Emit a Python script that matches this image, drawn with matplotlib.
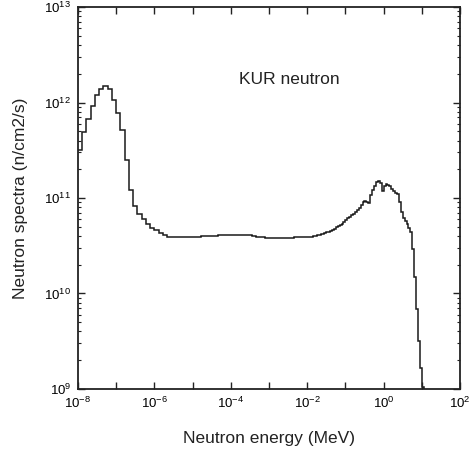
import numpy as np
import matplotlib
matplotlib.use("Agg")
import matplotlib.pyplot as plt
from matplotlib.ticker import LogLocator, NullLocator, NullFormatter

plt.rcParams['font.family'] = ['Liberation Sans', 'DejaVu Sans']
plt.rcParams['mathtext.fontset'] = 'custom'
plt.rcParams['mathtext.rm'] = 'Liberation Sans'
plt.rcParams['mathtext.default'] = 'regular'

# group structure: 9 groups/decade below 10 keV, 20 groups/decade above
slow_edges = 10 ** (-8 + np.arange(55) / 9)        # MeV
fast_edges = 10 ** (-2 + np.arange(1, 63) / 20)    # MeV

# group flux, units of 1e10 n/cm2/s
thermal_flux = [32, 49, 68, 93, 120, 138, 148, 138, 107, 78, 51, 25, 12.0,
                8.3, 6.8, 6.0, 5.4, 4.9, 4.6, 4.3, 4.1, 3.94]
epithermal_flux = [3.89, 3.89, 3.89, 3.89, 3.89, 3.91, 3.94, 3.96, 3.98, 3.98,
                   4.03, 4.05, 4.07, 4.09, 4.12, 4.14, 4.14, 4.12, 4.07, 3.98,
                   3.91, 3.87, 3.85, 3.85, 3.85, 3.85, 3.85, 3.85, 3.85, 3.86,
                   3.87, 3.89]
fast_flux = [3.89, 3.91, 3.94, 3.98, 4.03, 4.07, 4.13, 4.17, 4.22, 4.27,
             4.37, 4.45, 4.52, 4.57, 4.79, 4.95, 5.07, 5.19, 5.37, 5.56,
             5.82, 6.10, 6.31, 6.61, 6.84, 7.16, 7.50, 7.94, 8.51, 9.12,
             9.33, 9.02, 8.81, 10.7, 12.0, 13.2, 14.8, 15.1, 14.3, 11.7,
             13.5, 14.1, 13.6, 13.2, 12.3, 11.7, 11.4, 11.1, 9.1, 7.2,
             6.2, 5.8, 5.4, 4.9, 4.4, 2.9, 1.48, 0.69, 0.32, 0.166,
             0.105, 0.05]

edges = np.concatenate([slow_edges, fast_edges])
flux = np.array(thermal_flux + epithermal_flux + fast_flux) * 1e10

fig = plt.figure(figsize=(4.69, 4.50), dpi=100)
ax = fig.add_axes([0.1663, 0.1356, 0.8145, 0.8488])

ax.stairs(flux, edges, baseline=None, color='#1a1a1a', linewidth=1.1)

ax.set_xscale('log')
ax.set_yscale('log')
ax.set_xlim(1e-8, 1e2)
ax.set_ylim(1e9, 1e13)

ax.xaxis.set_minor_locator(NullLocator())
ax.set_xticks([10.0 ** p for p in range(-8, 3)])
ax.set_xticklabels(['$10^{%d}$' % p if p % 2 == 0 else '' for p in range(-8, 3)])
ax.xaxis.set_minor_locator(NullLocator())
ax.set_yticks([10.0 ** p for p in range(9, 14)])
ax.set_yticklabels(['$10^{%d}$' % p for p in range(9, 14)])
ax.yaxis.set_minor_locator(LogLocator(base=10, subs=np.arange(2, 10), numticks=10))
ax.yaxis.set_minor_formatter(NullFormatter())

ax.tick_params(which='both', direction='in', top=True, right=True,
               labelsize=9.5, color='#222222')
ax.tick_params(which='major', length=5, width=1.0, pad=5)
ax.tick_params(which='minor', length=2.5, width=0.8)
for s in ax.spines.values():
    s.set_linewidth(1.3)
    s.set_color('#222222')

ax.set_xlabel('Neutron energy (MeV)', fontsize=12.5, labelpad=14, color='#222222')
ax.set_ylabel('Neutron spectra (n/cm2/s)', fontsize=12.5, labelpad=12, color='#222222')
ax.text(0.552, 0.809, 'KUR neutron', transform=ax.transAxes, ha='center',
        va='center', fontsize=12.5, color='#222222')

fig.savefig('out.png', dpi=100)
